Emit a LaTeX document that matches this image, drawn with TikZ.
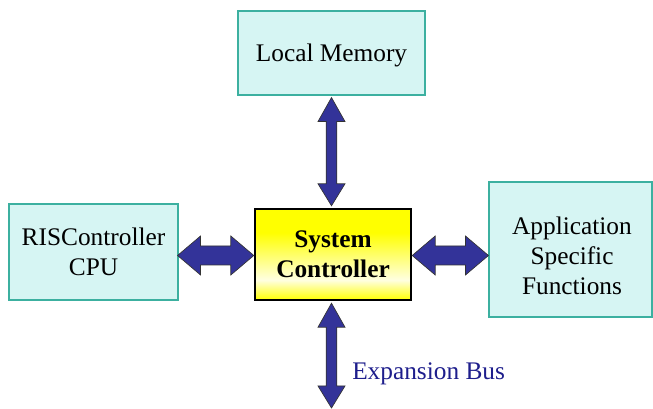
\documentclass[tikz,border=0pt]{standalone}
\usepackage{fontspec}
\setmainfont{Liberation Serif}
\usetikzlibrary{calc}
\definecolor{boxfill}{RGB}{214,245,243}
\definecolor{boxline}{RGB}{60,176,160}
\definecolor{busblue}{RGB}{51,51,153}
\definecolor{labelblue}{RGB}{30,30,140}
\definecolor{paleyellow}{RGB}{255,255,225}
\pgfdeclareverticalshading{scshade}{100bp}{color(0bp)=(yellow); color(25bp)=(yellow); color(36bp)=(paleyellow); color(62bp)=(yellow); color(100bp)=(yellow)}
\tikzset{
  unitbox/.style={draw=boxline, line width=0.8pt, fill=boxfill, align=center, inner sep=0pt,
    text depth=0pt, font=\fontsize{19}{22.5}\selectfont},
  ctrlbox/.style={draw=black, line width=1.8pt, shading=scshade, align=center, inner sep=0pt,
    text depth=0pt, font=\fontsize{19}{22.5}\selectfont\bfseries},
  busarrow/.style={fill=busblue, draw=black!80, line width=0.5pt, line join=miter},
  buslabel/.style={text=labelblue, inner sep=0pt, font=\fontsize{19}{22.5}\selectfont}
}
\begin{document}
\begin{tikzpicture}[x=0.75pt, y=-0.75pt]
\useasboundingbox (0,0) rectangle (653,409);
\node[unitbox, minimum width=140.25pt, minimum height=63pt] (lm) at (331.5,53) {Local Memory};
\node[unitbox, minimum width=126.75pt, minimum height=72pt] (cpu) at (93.5,252) {RISController\\CPU};
\node[unitbox, minimum width=122.25pt, minimum height=101.25pt] (app) at (570.5,249.5) {};
\node[inner sep=0pt, align=center, font=\fontsize{19}{22.5}\selectfont] (apptext) at (572,256) {Application\\Specific\\Functions};
\node[ctrlbox, minimum width=117pt, minimum height=68.25pt] (sc) at (333,254.5) {System\\Controller};
% vertical arrow: local memory <-> system controller
\coordinate (v1) at ($(lm.south)+(0,2)$);
\coordinate (v2) at ($(lm.south |- sc.north)+(0,-2)$);
\draw[busarrow] (v1) -- ++(13.5,24) -- ++(-8.2,0) -- ($(v2)+(5.3,-22)$) -- ++(8.2,0) -- (v2)
  -- ++(-13.5,-22) -- ++(8.2,0) -- ($(v1)+(-5.3,24)$) -- ++(-8.2,0) -- cycle;
% vertical arrow: system controller <-> expansion bus
\coordinate (e1) at ($(lm.south |- sc.south)+(0,2)$);
\coordinate (e2) at (331.5,408);
\draw[busarrow] (e1) -- ++(13.5,24) -- ++(-8.2,0) -- ($(e2)+(5.3,-22)$) -- ++(8.2,0) -- (e2)
  -- ++(-13.5,-22) -- ++(8.2,0) -- ($(e1)+(-5.3,24)$) -- ++(-8.2,0) -- cycle;
% horizontal arrow: cpu <-> system controller
\coordinate (h1) at ($(cpu.east |- sc.west)+(-1,1)$);
\coordinate (h2) at ($(sc.west)+(0,1)$);
\draw[busarrow] (h1) -- ++(23,-19.5) -- ++(0,10) -- ($(h2)+(-23,-9.5)$) -- ++(0,-10) -- (h2)
  -- ++(-23,19.5) -- ++(0,-10) -- ($(h1)+(23,9.5)$) -- ++(0,10) -- cycle;
% horizontal arrow: system controller <-> application
\coordinate (r1) at ($(sc.east)+(0,1)$);
\coordinate (r2) at ($(app.west |- sc.east)+(0,1)$);
\draw[busarrow] (r1) -- ++(23,-19.5) -- ++(0,10) -- ($(r2)+(-23,-9.5)$) -- ++(0,-10) -- (r2)
  -- ++(-23,19.5) -- ++(0,-10) -- ($(r1)+(23,9.5)$) -- ++(0,10) -- cycle;
\node[buslabel, anchor=base west] (eb) at (352,379) {Expansion Bus};
\end{tikzpicture}
\end{document}
